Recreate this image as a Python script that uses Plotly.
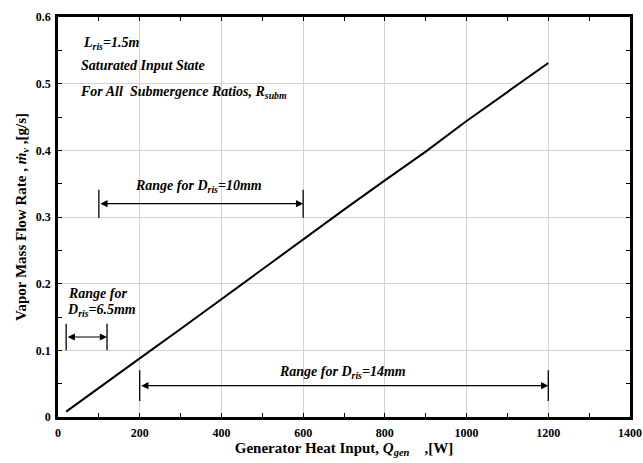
import plotly.graph_objects as go

# Vapor mass flow rate vs generator heat input
q_gen = [20, 100, 200, 300, 400, 500, 600, 700, 800, 900, 1000, 1100, 1200]
m_dot = [0.008, 0.043, 0.088, 0.132, 0.177, 0.222, 0.267, 0.311, 0.355, 0.398, 0.444, 0.488, 0.531]

# Operating ranges per riser diameter: (q_start, q_end) and arrow level
range_65 = [20, 120]
range_65_level = 0.12
range_10 = [100, 600]
range_10_level = 0.32
range_14 = [200, 1200]
range_14_level = 0.047

# tick marks every half step, labels and gridlines every full step
x_tickvals = [0, 100, 200, 300, 400, 500, 600, 700, 800, 900, 1000, 1100, 1200, 1300, 1400]
x_ticktext = ["0", "", "200", "", "400", "", "600", "", "800", "", "1000", "", "1200", "", "1400"]
x_grid = [200, 400, 600, 800, 1000, 1200]
y_tickvals = [0, 0.05, 0.1, 0.15, 0.2, 0.25, 0.3, 0.35, 0.4, 0.45, 0.5, 0.55, 0.6]
y_ticktext = ["0", "", "0.1", "", "0.2", "", "0.3", "", "0.4", "", "0.5", "", "0.6"]
y_grid = [0.1, 0.2, 0.3, 0.4, 0.5]

SERIF = "Liberation Serif"

fig = go.Figure()
fig.add_trace(go.Scatter(x=q_gen, y=m_dot, mode="lines",
                         line=dict(color="black", width=2), showlegend=False,
                         hoverinfo="skip"))

shapes = []
annotations = []


def range_marker(rng, level, half):
    for q in rng:
        shapes.append(dict(type="line", xref="x", yref="y", x0=q, x1=q,
                           y0=level - half, y1=level + half,
                           line=dict(color="black", width=1.3)))
    annotations.append(dict(x=rng[1], y=level, ax=rng[0], ay=level,
                            xref="x", yref="y", axref="x", ayref="y",
                            text="", showarrow=True, arrowhead=2,
                            arrowside="end+start", arrowsize=1.2,
                            arrowwidth=1.2, arrowcolor="black",
                            standoff=0, startstandoff=0))


range_marker(range_65, range_65_level, 0.02)
range_marker(range_10, range_10_level, 0.021)
range_marker(range_14, range_14_level, 0.023)

lab_font = dict(family=SERIF, size=14, color="black")


def label(x, y, text, xanchor="left"):
    annotations.append(dict(x=x, y=y, xref="x", yref="y", text=text,
                            showarrow=False, xanchor=xanchor, yanchor="middle",
                            font=lab_font, align="left"))


label(56, 0.561, "<b><i>L<sub>ris</sub>=1.5m</i></b>")
label(52, 0.528, "<b><i>Saturated Input State</i></b>")
label(50, 0.4875, "<b><i>For All  Submergence Ratios, R<sub>subm</sub></i></b>")
label(343, 0.346, "<b><i>Range for D<sub>ris</sub>=10mm</i></b>", xanchor="center")
label(20, 0.186, "<b><i>Range for</i></b>")
label(18, 0.1605, "<b><i>D<sub>ris</sub>=6.5mm</i></b>")
label(697, 0.067, "<b><i>Range for D<sub>ris</sub>=14mm</i></b>", xanchor="center")

tick_font = dict(family=SERIF, size=12, color="black", weight="bold")
title_font = dict(family=SERIF, size=15, color="black")

fig.update_layout(
    width=643, height=463,
    margin=dict(l=58, r=13, t=17, b=46),
    paper_bgcolor="white", plot_bgcolor="white",
    shapes=shapes, annotations=annotations,
    xaxis=dict(range=[0, 1400], tickmode="array", tickvals=x_tickvals,
               ticktext=x_ticktext, ticks="inside", ticklen=4, tickwidth=1.2,
               tickcolor="black", showline=True, linecolor="black",
               linewidth=2.5, mirror="allticks", showgrid=False, zeroline=False,
               tickfont=tick_font, ticklabelstandoff=3, automargin=False,
               ticklabeloverflow="allow",
               minor=dict(tickvals=x_grid, ticks="", showgrid=True,
                          gridcolor="#d2d2d2", gridwidth=1),
               title=dict(text="<b>Generator Heat Input, <i>Q<sub>gen</sub></i>    ,[W]</b>",
                          font=title_font, standoff=4)),
    yaxis=dict(range=[0, 0.6], tickmode="array", tickvals=y_tickvals,
               ticktext=y_ticktext, ticks="inside", ticklen=4, tickwidth=1.2,
               tickcolor="black", showline=True, linecolor="black",
               linewidth=2.5, mirror="allticks", showgrid=False, zeroline=False,
               tickfont=tick_font, ticklabelstandoff=2, automargin=False,
               ticklabeloverflow="allow",
               minor=dict(tickvals=y_grid, ticks="", showgrid=True,
                          gridcolor="#d2d2d2", gridwidth=1),
               title=dict(text="<b>Vapor Mass Flow Rate , <i>ṁ<sub>v</sub></i> ,[g/s]</b>",
                          font=title_font, standoff=6)),
)

fig.write_html("out.html")
